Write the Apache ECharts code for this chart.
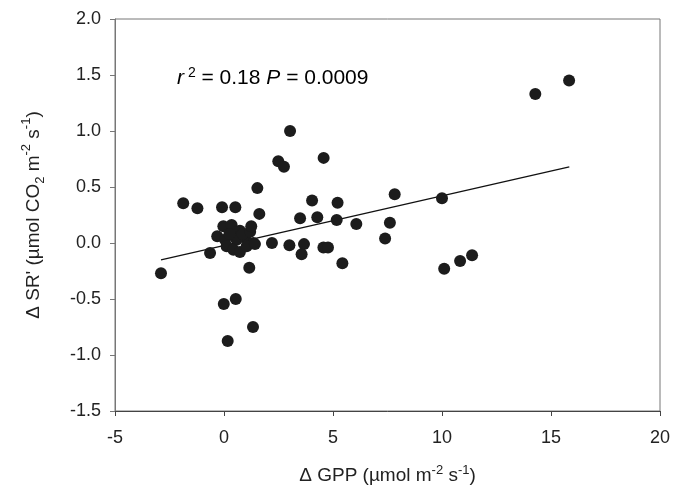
<!DOCTYPE html>
<html>
<head>
<meta charset="utf-8">
<script src="https://cdn.jsdelivr.net/npm/echarts@6/dist/echarts.min.js"></script>
<style>
  html, body { margin: 0; padding: 0; background: #fff; }
  #chart { width: 683px; height: 492px; }
</style>
</head>
<body>
<div id="chart"></div>
<script>
// Change in gross primary production (x) vs change in soil respiration (y)
var gppDelta = [
  -2.89, -1.87, -1.22, -0.64, -0.09, 0.52, -0.31, -0.03, 0.35, 0.73,
  0.96, 1.35, 0.05, 0.58, 0.12, 0.43, 0.73, 1.04, 0.25, 0.85,
  1.20, 1.25, 1.42, 1.62, 1.53, 1.16, 2.20, 2.49, 2.75, 3.03,
  3.00, 3.49, 3.67, 3.56, 4.04, 4.28, 4.57, 4.56, 4.77, 5.21,
  5.17, 5.43, 6.07, 7.39, 7.61, 7.83, 10.00, 10.10, 10.83, 11.38,
  14.28, 15.83, -0.01, 0.54, 1.33, 0.17
];
var srDelta = [
  -0.27, 0.355, 0.31, -0.09, 0.32, 0.32, 0.06, 0.15, 0.16, 0.11,
  0.05, 0.00, 0.03, 0.03, -0.03, -0.06, -0.08, -0.03, 0.08, 0.08,
  0.10, 0.15, -0.01, 0.26, 0.49, -0.22, 0.00, 0.73, 0.68, 1.00,
  -0.02, 0.22, -0.01, -0.10, 0.38, 0.23, 0.76, -0.04, -0.04, 0.36,
  0.205, -0.18, 0.17, 0.04, 0.18, 0.435, 0.40, -0.23, -0.16, -0.11,
  1.33, 1.45, -0.545, -0.50, -0.75, -0.875
];
// Regression line end points
var fitX = [-2.89, 15.84];
var fitY = [-0.15, 0.68];

var xTicks = { min: -5, max: 20, step: 5 };
var yTicks = { min: -1.5, max: 2.0, step: 0.5 };

var points = gppDelta.map(function (x, i) { return [x, srDelta[i]]; });
var fitLine = fitX.map(function (x, i) { return [x, fitY[i]]; });

var labelFont = 'Liberation Sans, Arial, sans-serif';
var chart = echarts.init(document.getElementById('chart'), null, { renderer: 'canvas' });

var supStyle = { fontSize: 13, fontFamily: labelFont, color: '#222', verticalAlign: 'top', lineHeight: 20 };
var subStyle = { fontSize: 13, fontFamily: labelFont, color: '#222', verticalAlign: 'bottom', lineHeight: 27 };
var baseStyle = { fontSize: 19, fontFamily: labelFont, color: '#222', lineHeight: 23 };

chart.setOption({
  animation: false,
  backgroundColor: '#fff',
  grid: {
    left: 115, right: 23, top: 19, bottom: 81,
    show: true, borderColor: '#777', borderWidth: 1
  },
  xAxis: {
    type: 'value',
    min: xTicks.min, max: xTicks.max, interval: xTicks.step,
    splitLine: { show: false },
    axisLine: { onZero: false, lineStyle: { color: '#444', width: 1 } },
    axisTick: { inside: false, length: 5, lineStyle: { color: '#444' } },
    axisLabel: { fontSize: 18, fontFamily: labelFont, color: '#222', margin: 18 },
    name: '{b|\u0394 GPP (\u00b5mol m}{sup|-2}{b| s}{sup|-1}{b|)}',
    nameLocation: 'middle',
    nameGap: 53,
    nameTextStyle: { rich: { b: baseStyle, sup: supStyle } }
  },
  yAxis: {
    type: 'value',
    min: yTicks.min, max: yTicks.max, interval: yTicks.step,
    splitLine: { show: false },
    axisLine: { onZero: false, lineStyle: { color: '#777', width: 1 } },
    axisTick: { inside: false, length: 5, lineStyle: { color: '#777' } },
    axisLabel: {
      fontSize: 18, fontFamily: labelFont, color: '#222', margin: 14,
      formatter: function (v) { return v.toFixed(1); }
    },
    name: '{b|\u0394 SR\' (\u00b5mol CO}{sub|2}{b| m}{sup|-2}{b| s}{sup|-1}{b|)}',
    nameLocation: 'middle',
    nameGap: 68,
    nameRotate: 90,
    nameTextStyle: { rich: { b: baseStyle, sup: supStyle, sub: subStyle } }
  },
  graphic: [{
    type: 'text',
    left: 177, top: 66,
    style: {
      text: '{i|r}{sup| 2}{b| = 0.18 }{i|P}{b| = 0.0009}',
      rich: {
        i: { fontSize: 21, fontFamily: labelFont, fontStyle: 'italic', color: '#222', lineHeight: 25 },
        b: { fontSize: 21, fontFamily: labelFont, color: '#222', lineHeight: 25 },
        sup: { fontSize: 14, fontFamily: labelFont, color: '#222', verticalAlign: 'top', lineHeight: 20 }
      }
    }
  }],
  series: [
    {
      type: 'line',
      data: fitLine,
      symbol: 'none',
      lineStyle: { color: '#111', width: 1.3 },
      z: 3
    },
    {
      type: 'scatter',
      data: points,
      symbol: 'circle',
      symbolSize: 12,
      itemStyle: { color: '#1c1c1c', opacity: 1 },
      z: 4
    }
  ]
});
</script>
</body>
</html>
